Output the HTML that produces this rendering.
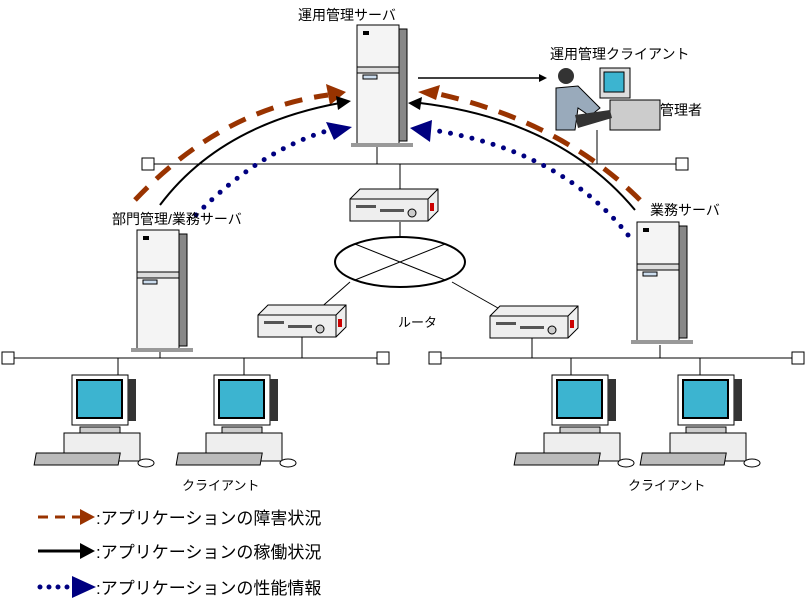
<!DOCTYPE html>
<html><head><meta charset="utf-8"><style>
html,body{margin:0;padding:0;background:#fff;}
svg text{font-family:"Liberation Sans","Noto Sans CJK JP",sans-serif;}
</style></head><body>
<svg width="808" height="607" viewBox="0 0 808 607" xmlns="http://www.w3.org/2000/svg">
<defs>
<g id="srv">
 <rect x="0" y="0" width="42" height="120" fill="#f4f4f4" stroke="#000"/>
 <rect x="42" y="4" width="8" height="112" fill="#888" stroke="#000"/>
 <rect x="6" y="6" width="6" height="4" fill="#000"/>
 <rect x="0" y="42" width="42" height="6" fill="#ddd" stroke="#000"/>
 <rect x="6" y="50" width="14" height="4" fill="#cde" stroke="#000"/>
 <rect x="-6" y="118" width="62" height="4" fill="#999"/>
</g>
<g id="rtr">
 <path d="M0 10 L10 0 L88 0 L88 22 L78 32 L0 32 Z" fill="#eee" stroke="#000"/>
 <path d="M0 10 L78 10 L88 0 M78 10 L78 32" fill="none" stroke="#000"/>
 <rect x="6" y="16" width="20" height="3" fill="#555"/>
 <rect x="30" y="20" width="24" height="3" fill="#555"/>
 <circle cx="62" cy="24" r="4" fill="#ccc" stroke="#000"/>
 <rect x="80" y="14" width="4" height="8" fill="#c00"/>
</g>
<g id="pc">
 <rect x="22" y="0" width="56" height="50" fill="#fff" stroke="#000"/>
 <rect x="27" y="5" width="45" height="38" fill="#3cb4d0" stroke="#000" stroke-width="2"/>
 <rect x="78" y="4" width="8" height="42" fill="#333"/>
 <rect x="30" y="52" width="40" height="6" fill="#ccc" stroke="#000"/>
 <rect x="14" y="58" width="76" height="28" fill="#eee" stroke="#000"/>
 <rect x="0" y="78" width="84" height="12" fill="#bbb" stroke="#000" transform="skewX(-10)"/>
 <ellipse cx="96" cy="88" rx="8" ry="4" fill="#fff" stroke="#000"/>
</g>
<marker id="mb" markerWidth="8" markerHeight="8" refX="6" refY="4" orient="auto" markerUnits="userSpaceOnUse"><path d="M0 0 L8 4 L0 8Z" fill="#000"/></marker>
</defs>

<!-- networks -->
<line x1="154" y1="164" x2="676" y2="164" stroke="#000"/>
<rect x="142" y="158" width="12" height="12" fill="#fff" stroke="#000"/>
<rect x="676" y="158" width="12" height="12" fill="#fff" stroke="#000"/>
<line x1="377" y1="146" x2="377" y2="164" stroke="#000"/>
<line x1="400" y1="164" x2="400" y2="190" stroke="#000"/>
<line x1="597" y1="130" x2="597" y2="164" stroke="#000"/>
<line x1="14" y1="358" x2="377" y2="358" stroke="#000"/>
<rect x="2" y="352" width="12" height="12" fill="#fff" stroke="#000"/>
<rect x="377" y="352" width="12" height="12" fill="#fff" stroke="#000"/>
<line x1="441" y1="358" x2="792" y2="358" stroke="#000"/>
<rect x="429" y="352" width="12" height="12" fill="#fff" stroke="#000"/>
<rect x="792" y="352" width="12" height="12" fill="#fff" stroke="#000"/>
<line x1="160" y1="348" x2="160" y2="358" stroke="#000"/>
<line x1="302" y1="335" x2="302" y2="358" stroke="#000"/>
<line x1="532" y1="338" x2="532" y2="358" stroke="#000"/>
<line x1="660" y1="345" x2="660" y2="358" stroke="#000"/>
<line x1="118" y1="358" x2="118" y2="375" stroke="#000"/>
<line x1="244" y1="358" x2="244" y2="375" stroke="#000"/>
<line x1="571" y1="358" x2="571" y2="375" stroke="#000"/>
<line x1="700" y1="358" x2="700" y2="375" stroke="#000"/>
<!-- ellipse -->
<ellipse cx="400" cy="262" rx="65" ry="25" fill="#fff" stroke="#000" stroke-width="2"/>
<line x1="355" y1="244" x2="445" y2="280" stroke="#000"/>
<line x1="355" y1="280" x2="445" y2="244" stroke="#000"/>
<line x1="400" y1="222" x2="400" y2="237" stroke="#000"/>
<line x1="350" y1="282" x2="318" y2="310" stroke="#000"/>
<line x1="452" y1="282" x2="505" y2="312" stroke="#000"/>

<use href="#srv" x="357" y="25"/>
<use href="#srv" x="137" y="230"/>
<use href="#srv" x="637" y="222"/>
<use href="#rtr" x="350" y="189"/>
<use href="#rtr" x="258" y="305"/>
<use href="#rtr" x="490" y="306"/>
<use href="#pc" x="50" y="375"/>
<use href="#pc" x="192" y="375"/>
<use href="#pc" x="530" y="375"/>
<use href="#pc" x="656" y="375"/>

<!-- person -->
<g>
 <rect x="600" y="68" width="30" height="30" fill="#ddd" stroke="#000"/>
 <rect x="604" y="72" width="20" height="20" fill="#3cb4d0" stroke="#000"/>
 <rect x="610" y="100" width="50" height="30" fill="#ccc" stroke="#000"/>
 <circle cx="566" cy="76" r="8" fill="#333"/>
 <path d="M556 88 L578 86 L600 108 L590 116 L578 108 L575 130 L556 130 Z" fill="#9ab" stroke="#000"/>
 <path d="M575 115 L610 110 L612 118 L578 128Z" fill="#333"/>
</g>

<!-- arrows -->
<path d="M135 200 Q220 110 328 95" fill="none" stroke="#993300" stroke-width="5" stroke-dasharray="18 12"/>
<path d="M326 84 L346 92 L330 105Z" fill="#993300"/>
<path d="M160 205 Q220 125 340 103" fill="none" stroke="#000" stroke-width="2"/>
<path d="M336 96 L351 101 L338 110Z" fill="#000"/>
<path d="M196 215 Q260 150 330 130" fill="none" stroke="#000080" stroke-width="5" stroke-dasharray="0 11" stroke-linecap="round"/>
<path d="M326 122 L352 127 L334 140Z" fill="#000080"/>
<path d="M640 200 Q560 120 430 92" fill="none" stroke="#993300" stroke-width="5" stroke-dasharray="18 12"/>
<path d="M418 92 L440 85 L436 100Z" fill="#993300"/>
<path d="M635 210 Q560 120 420 103" fill="none" stroke="#000" stroke-width="2"/>
<path d="M408 103 L422 97 L420 110Z" fill="#000"/>
<path d="M628 235 Q560 150 432 130" fill="none" stroke="#000080" stroke-width="5" stroke-dasharray="0 11" stroke-linecap="round"/>
<path d="M410 128 L432 120 L430 142Z" fill="#000080"/>
<line x1="418" y1="78" x2="545" y2="78" stroke="#000" stroke-width="1.5" marker-end="url(#mb)"/>

<!-- labels -->
<g font-size="14" fill="#000">
<text x="298" y="20">運用管理サーバ</text>
<text x="550" y="59">運用管理クライアント</text>
<text x="660" y="115">管理者</text>
<text x="112" y="224">部門管理/業務サーバ</text>
<text x="650" y="215">業務サーバ</text>
<text x="398" y="327" font-size="13">ルータ</text>
<text x="182" y="490" font-size="13">クライアント</text>
<text x="628" y="490" font-size="13">クライアント</text>
<text x="96" y="524" font-size="17">:アプリケーションの障害状況</text>
<text x="96" y="558" font-size="17">:アプリケーションの稼働状況</text>
<text x="96" y="594" font-size="17">:アプリケーションの性能情報</text>
</g>
<line x1="38" y1="517" x2="82" y2="517" stroke="#993300" stroke-width="3" stroke-dasharray="10 7"/>
<path d="M80 509 L95 517 L80 525Z" fill="#993300"/>
<line x1="38" y1="551" x2="82" y2="551" stroke="#000" stroke-width="3"/>
<path d="M80 543 L95 551 L80 559Z" fill="#000"/>
<line x1="40" y1="587" x2="80" y2="587" stroke="#000080" stroke-width="5" stroke-dasharray="0 9" stroke-linecap="round"/>
<path d="M72 576 L96 587 L72 598Z" fill="#000080"/>
</svg>
</body></html>
